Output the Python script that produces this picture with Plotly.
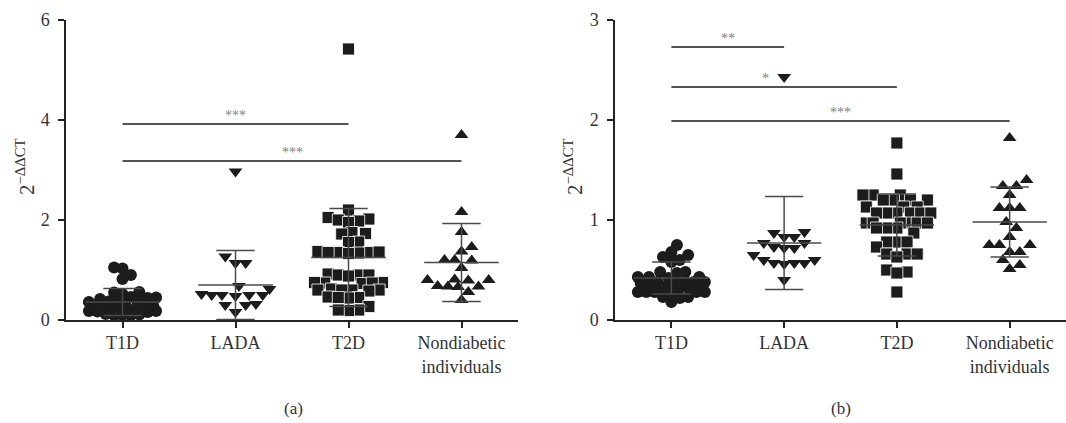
import plotly.graph_objects as go

# ---------------- data ----------------
categories = ["T1D", "LADA", "T2D", "Nondiabetic<br>individuals"]

# panel (a)
a_t1d = [1.05, 1.03, 0.90, 0.82, 0.56, 0.55, 0.52, 0.46, 0.45, 0.44, 0.42, 0.38, 0.37,
         0.36, 0.35, 0.34, 0.28, 0.28, 0.27, 0.26, 0.28, 0.25, 0.20, 0.19, 0.18, 0.18,
         0.17, 0.16, 0.12, 0.11, 0.10, 0.10, 0.10]
a_lada = [2.97, 1.27, 1.14, 1.14, 0.68, 0.62, 0.52, 0.50, 0.50, 0.48, 0.50, 0.50, 0.32,
          0.30, 0.30, 0.16]
a_t2d = [5.42, 2.20, 2.05, 2.02, 2.00, 1.98, 1.95, 1.75, 1.73, 1.72, 1.56, 1.55, 1.37,
         1.35, 1.35, 1.34, 1.35, 1.36, 1.33, 0.92, 0.90, 0.90, 0.88, 0.90, 0.75, 0.74,
         0.73, 0.75, 0.74, 0.60, 0.60, 0.58, 0.62, 0.60, 0.60, 0.46, 0.45, 0.44, 0.45,
         0.27, 0.20, 0.19, 0.20]
a_nd = [3.70, 2.16, 1.76, 1.46, 1.37, 1.20, 1.20, 1.19, 1.04, 0.80, 0.80, 0.79, 0.81,
        0.67, 0.66, 0.67, 0.68, 0.56, 0.40]
a_means = [0.36, 0.70, 1.25, 1.15]
a_sds = [0.27, 0.69, 0.98, 0.78]
a_sig = [(0, 2, 3.92, "***"), (0, 3, 3.18, "***")]

# panel (b)
b_t1d = [0.75, 0.68, 0.65, 0.63, 0.60, 0.58, 0.48, 0.48, 0.47, 0.43, 0.43, 0.43, 0.42,
         0.38, 0.38, 0.38, 0.37, 0.38, 0.38, 0.33, 0.33, 0.33, 0.32, 0.33, 0.33, 0.28,
         0.28, 0.28, 0.27, 0.28, 0.28, 0.23, 0.23, 0.22, 0.18]
b_lada = [2.43, 0.88, 0.87, 0.83, 0.83, 0.77, 0.77, 0.73, 0.72, 0.72, 0.65, 0.60, 0.60,
          0.57, 0.57, 0.57, 0.56, 0.40]
b_t2d = [1.77, 1.46, 1.25, 1.25, 1.25, 1.20, 1.20, 1.20, 1.20, 1.13, 1.13, 1.13, 1.07,
         1.07, 1.07, 1.07, 1.07, 1.07, 0.97, 0.97, 0.97, 0.97, 0.97, 0.97, 0.92, 0.92,
         0.92, 0.87, 0.78, 0.78, 0.78, 0.73, 0.66, 0.66, 0.66, 0.63, 0.50, 0.48, 0.47, 0.28]
b_nd = [1.82, 1.40, 1.34, 1.34, 1.25, 1.12, 1.12, 1.12, 0.98, 0.92, 0.83, 0.75, 0.75,
        0.75, 0.68, 0.68, 0.60, 0.55, 0.51]
b_means = [0.42, 0.77, 0.95, 0.98]
b_sds = [0.16, 0.465, 0.31, 0.35]
b_sig = [(0, 1, 2.73, "**"), (0, 2, 2.33, "*"), (0, 3, 1.99, "***")]

a_ticks = [0, 2, 4, 6]
b_ticks = [0, 1, 2, 3]
panel_labels = ["(a)", "(b)"]

# ---------------- styling ----------------
W, H = 1066, 423
FONT = "Liberation Serif, Times New Roman, serif"
SYMBOLS = ["circle", "triangle-down", "square", "triangle-up"]
MSIZE = [12, 12, 12, 12]
SEP = [0.7, 0.85, 0.85, 0.85]   # separation factor used by the beeswarm layout
MAXW = [35, 36, 36, 36]        # max half-width of a swarm, in pixels
PX_PER_CAT = 113.0


def swarm(vals, sy, d, maxw):
    """Simple bounded beeswarm: horizontal offsets (category units)."""
    placed = []
    offs = [0.0] * len(vals)
    step = d / 3.0
    order = sorted(range(len(vals)), key=lambda i: vals[i])
    cands = [0.0]
    k = 1
    while k * step <= maxw:
        cands += [k * step, -k * step]
        k += 1
    for i in order:
        y = vals[i] * sy
        chosen, best_score, chosen_fallback = None, -1.0, 0.0
        for c in cands:
            md = min([((c - px) ** 2 + (y - py) ** 2) for px, py in placed] or [1e9])
            if md >= d * d:
                chosen = c
                break
            if md > best_score:
                best_score, chosen_fallback = md, c
        if chosen is None:
            chosen = chosen_fallback
        placed.append((chosen, y))
        offs[i] = chosen / PX_PER_CAT
    return offs


fig = go.Figure()

panels = [
    dict(groups=[a_t1d, a_lada, a_t2d, a_nd], means=a_means, sds=a_sds, sig=a_sig,
         ticks=a_ticks, ymax=6, xa="x", ya="y", dom=[66 / W, 518 / W]),
    dict(groups=[b_t1d, b_lada, b_t2d, b_nd], means=b_means, sds=b_sds, sig=b_sig,
         ticks=b_ticks, ymax=3, xa="x2", ya="y2", dom=[615 / W, 1.0]),
]

ydom = [(H - 320) / H, (H - 20) / H]
plot_h = 300.0

annotations = []
shapes = []

for p, pan in enumerate(panels):
    sy = plot_h / pan["ymax"]
    for g, vals in enumerate(pan["groups"]):
        offs = swarm(vals, sy, MSIZE[g] * SEP[g], MAXW[g])
        fig.add_trace(go.Scatter(
            x=[g + o for o in offs], y=vals, mode="markers", xaxis=pan["xa"], yaxis=pan["ya"],
            cliponaxis=False, showlegend=False,
            marker=dict(symbol=SYMBOLS[g], size=MSIZE[g], color="#1c1c1c",
                        line=dict(color="white" if g == 2 else "#1c1c1c",
                                  width=0.8 if g == 2 else 0)),
        ))
    # mean +/- SD bars
    for g in range(4):
        m, s = pan["means"][g], pan["sds"][g]
        lo = max(m - s, 0.0)
        fig.add_trace(go.Scatter(
            x=[g - 0.33, g + 0.33, None, g - 0.17, g + 0.17, None, g - 0.17, g + 0.17, None, g, g],
            y=[m, m, None, m + s, m + s, None, lo, lo, None, lo, m + s],
            mode="lines", xaxis=pan["xa"], yaxis=pan["ya"], cliponaxis=False, showlegend=False,
            line=dict(color="#4a4a4a", width=1.5), hoverinfo="skip",
        ))
    # significance brackets
    for (g0, g1, yv, lab) in pan["sig"]:
        shapes.append(dict(type="line", xref=pan["xa"], yref=pan["ya"], x0=g0, x1=g1, y0=yv, y1=yv,
                           line=dict(color="#1a1a1a", width=1.5)))
        xs = -19 if (p == 1 and lab == "*") else 0
        annotations.append(dict(xref=pan["xa"], yref=pan["ya"], x=(g0 + g1) / 2, y=yv, text=lab,
                                showarrow=False, yanchor="bottom", xanchor="center", xshift=xs,
                                yshift=-1, font=dict(family=FONT, size=14, color="#808080")))
    # y-axis title
    annotations.append(dict(xref="paper", yref="paper", x=(25 if p == 0 else 573) / W,
                            y=(H - 167) / H, text="2<sup>−ΔΔCT</sup>", textangle=-90,
                            showarrow=False, xanchor="center", yanchor="middle",
                            font=dict(family=FONT, size=21, color="#333333")))
    # panel label
    annotations.append(dict(xref="paper", yref="paper", x=(293 if p == 0 else 841) / W,
                            y=(H - 408) / H, text=panel_labels[p], showarrow=False,
                            xanchor="center", yanchor="middle",
                            font=dict(family=FONT, size=17, color="#333333")))

axis_common = dict(showline=True, linecolor="#222222", linewidth=1.5, ticks="outside",
                   ticklen=6, tickwidth=1.5, tickcolor="#222222", showgrid=False, zeroline=False,
                   tickfont=dict(family=FONT, size=18, color="#333333"), fixedrange=True,
                   automargin=False)

fig.update_layout(
    width=W, height=H, margin=dict(l=0, r=0, t=0, b=0, autoexpand=False),
    paper_bgcolor="white", plot_bgcolor="white",
    font=dict(family=FONT, color="#333333"),
    xaxis=dict(domain=panels[0]["dom"], range=[-0.5, 3.5], tickvals=[0, 1, 2, 3],
               ticktext=categories, anchor="y", **axis_common),
    yaxis=dict(domain=ydom, range=[0, 6], tickvals=a_ticks, anchor="x", ticklabelstandoff=5,
               **axis_common),
    xaxis2=dict(domain=panels[1]["dom"], range=[-0.5, 3.5], tickvals=[0, 1, 2, 3],
                ticktext=categories, anchor="y2", **axis_common),
    yaxis2=dict(domain=ydom, range=[0, 3], tickvals=b_ticks, anchor="x2", ticklabelstandoff=5,
                **axis_common),
    shapes=shapes, annotations=annotations,
)

fig.write_html("out.html")
